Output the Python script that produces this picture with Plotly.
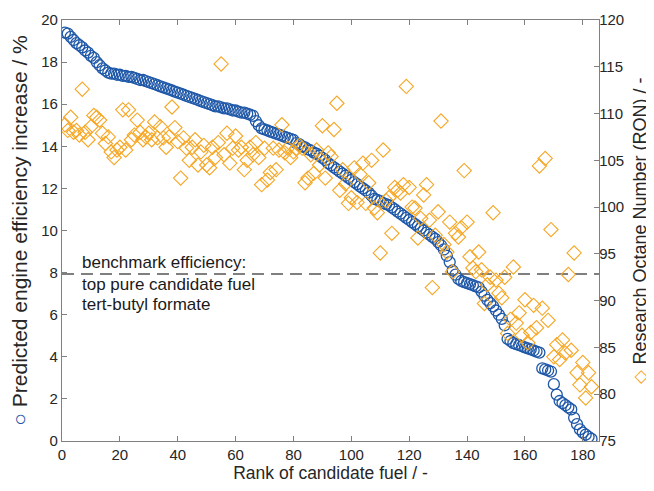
import plotly.graph_objects as go

# Predicted engine efficiency increase (%) by rank
efficiency = [
    19.4, 19.35, 19.2,
    19.05, 18.9, 18.8, 18.7, 18.55, 18.45, 18.3, 18.2, 18.0, 17.85,
    17.7, 17.6, 17.5, 17.45,
    17.45, 17.4, 17.4, 17.35, 17.35, 17.3, 17.3, 17.25, 17.2, 17.15, 17.15, 17.1, 17.05,
    17.0, 16.95, 16.9, 16.85, 16.8, 16.75, 16.7, 16.65, 16.6, 16.55, 16.5, 16.45,
    16.4, 16.35, 16.3, 16.25, 16.2, 16.15, 16.1, 16.05, 16.0, 15.95, 15.9, 15.9,
    15.85, 15.8, 15.8, 15.75, 15.7, 15.7, 15.65, 15.6, 15.6, 15.55, 15.5, 15.45,
    15.2, 15.0, 14.85,
    14.8, 14.75, 14.7, 14.65, 14.6, 14.55, 14.5, 14.45, 14.4, 14.35, 14.3,
    14.15, 14.1, 14.0, 13.95, 13.85, 13.8, 13.7, 13.65, 13.55, 13.45, 13.35,
    13.2, 13.1, 13.0, 12.9, 12.8, 12.7, 12.6, 12.5, 12.4,
    12.3, 12.2, 12.1, 12.0, 11.9, 11.8, 11.65, 11.5,
    11.45, 11.4, 11.3, 11.25, 11.2, 11.1, 11.0,
    10.9, 10.8, 10.7, 10.6, 10.5, 10.4, 10.3,
    10.2, 10.1, 10.0, 9.9, 9.8, 9.7, 9.6, 9.45,
    9.3, 9.1, 8.8, 8.5, 8.1, 7.9,
    7.7, 7.6, 7.55, 7.5, 7.45, 7.4, 7.35, 7.3,
    7.1, 6.9, 6.7, 6.55,
    6.4, 6.2, 6.0, 5.8, 5.5,
    4.85, 4.75, 4.65, 4.6, 4.55, 4.5, 4.45, 4.4, 4.35, 4.3, 4.25, 4.2,
    3.45, 3.4, 3.35, 3.3,
    2.7, 2.2,
    1.9, 1.8, 1.7, 1.6, 1.5,
    1.1, 0.8, 0.55, 0.4, 0.3, 0.2, 0.1,
]

# Research Octane Number by rank
ron = [
    108.8, 108.2, 109.6, 108.0, 108.2, 107.7, 112.6, 108.0, 107.2, 108.6,
    109.8, 109.6, 109.3, 107.9, 106.8, 107.5, 105.9, 105.3, 106.1, 106.4,
    110.4, 106.1, 110.4, 107.2, 107.7, 109.3, 108.0, 107.2, 107.5,
    107.9, 107.2, 109.1, 107.4, 108.6, 107.4, 106.4, 107.5, 110.7, 108.5,
    107.0, 103.1, 107.4, 106.3, 105.0, 106.4, 107.2, 104.5, 105.9, 106.6,
    104.5, 104.2, 106.4, 105.3, 106.9, 115.3, 105.6, 107.9, 104.7, 106.3,
    107.6, 106.1, 106.4, 104.0, 105.0, 106.4, 105.6, 106.9, 105.3, 102.4,
    106.3, 102.9, 103.7, 106.3, 104.0, 106.1, 108.8, 105.8, 106.3, 105.3,
    105.9, 106.3, 106.6, 106.3, 102.6, 103.1, 105.6, 103.6, 106.1, 104.5,
    108.7, 103.1, 105.8, 105.4, 108.3, 111.1, 101.8, 104.0, 102.5, 100.4,
    101.0, 104.2, 100.5, 103.5, 104.7, 100.4, 102.6, 105.0, 99.9, 99.4,
    95.1, 106.1, 100.7, 101.0, 97.2, 102.1, 101.8, 101.5, 102.4, 112.9,
    102.1, 100.0, 99.9, 96.7, 98.8, 101.3, 102.4, 98.6, 91.4, 97.0,
    99.5, 109.2, 96.0, 95.2, 98.4, 93.1, 97.2, 96.8, 97.8, 103.9,
    98.4, 94.7, 93.5, 93.1, 95.2, 93.3, 89.7, 91.7, 92.5, 99.4,
    92.2, 90.8, 90.3, 92.5, 86.5, 88.0, 93.6, 87.6, 88.7, 86.3,
    90.1, 85.5, 86.6, 89.5, 87.1, 104.4, 89.2, 105.2, 87.9, 97.6,
    84.0, 85.3, 83.7, 85.8, 84.4, 92.8, 84.7, 95.1, 82.3, 81.0,
    83.4, 79.6, 82.3, 80.8,
]

rank_eff = list(range(1, len(efficiency) + 1))
rank_ron = list(range(1, len(ron) + 1))

benchmark = 7.93
x_ticks = [0, 20, 40, 60, 80, 100, 120, 140, 160, 180]
y_ticks = [0, 2, 4, 6, 8, 10, 12, 14, 16, 18, 20]
y2_ticks = [75, 80, 85, 90, 95, 100, 105, 110, 115, 120]

BLUE = "#1f58a8"
ORANGE = "#f6a623"
AXIS = "#808080"
FONT = "Liberation Sans, Arial, sans-serif"

fig = go.Figure()
fig.add_trace(go.Scatter(
    x=rank_eff, y=efficiency, mode="markers", yaxis="y",
    marker=dict(symbol="circle-open", size=11, color=BLUE, line=dict(width=1.3, color=BLUE)),
    showlegend=False,
))
fig.add_trace(go.Scatter(
    x=rank_ron, y=ron, mode="markers", yaxis="y2",
    marker=dict(symbol="diamond-open", size=11, color=ORANGE, line=dict(width=1.1, color=ORANGE)),
    showlegend=False,
))
fig.add_trace(go.Scatter(
    x=[0, 185.6], y=[benchmark, benchmark], mode="lines", yaxis="y",
    line=dict(color="#555555", width=1.4, dash="12px,7px"), showlegend=False, hoverinfo="skip",
))

ann_font = dict(family=FONT, size=17, color="#1a1a1a")
for txt, yv in [("benchmark efficiency:", 8.5), ("top pure candidate fuel", 7.42), ("tert-butyl formate", 6.47)]:
    fig.add_annotation(x=6.2, y=yv, xref="x", yref="y", text=txt, showarrow=False,
                       xanchor="left", yanchor="middle", font=ann_font)

# page body has an 8px margin: figure is sized/positioned to compensate
fig.update_layout(
    width=646, height=483,
    margin=dict(l=54, r=55, t=12, b=50, autoexpand=False),
    plot_bgcolor="white", paper_bgcolor="white",
    font=dict(family=FONT, size=15, color="#262626"),
    xaxis=dict(
        range=[0, 185.6], tickvals=x_ticks, ticks="inside", ticklen=5, tickcolor=AXIS,
        showline=True, linecolor=AXIS, linewidth=1.3, mirror="ticks", showgrid=False, zeroline=False,
        title=dict(text="Rank of candidate fuel / -", font=dict(size=17.5), standoff=4),
        tickfont=dict(size=15), automargin=False,
    ),
    yaxis=dict(
        range=[0, 20], tickvals=y_ticks, ticks="inside", ticklen=5, tickcolor=AXIS,
        showline=True, linecolor=AXIS, linewidth=1.3, showgrid=False, zeroline=False,
        title=dict(text="<span style='color:%s'>○</span> Predicted engine efficiency increase / %%" % BLUE,
                   font=dict(size=21), standoff=8),
        tickfont=dict(size=15), automargin=False,
    ),
    yaxis2=dict(
        range=[75, 120], tickvals=y2_ticks, ticks="inside", ticklen=5, tickcolor=AXIS,
        overlaying="y", side="right",
        showline=True, linecolor=AXIS, linewidth=1.3, showgrid=False, zeroline=False,
        title=dict(text="<span style='color:%s'>◇</span> Research Octane Number (RON) / -" % ORANGE,
                   font=dict(size=18), standoff=10),
        tickfont=dict(size=15), automargin=False,
        ticklabelstandoff=-4,
    ),
)

fig.write_html("out.html")
